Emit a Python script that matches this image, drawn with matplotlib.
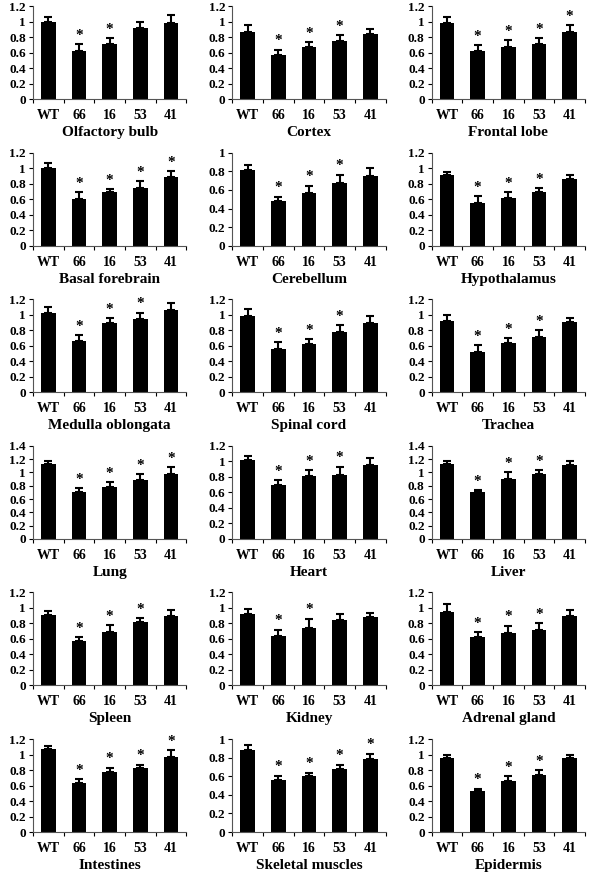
import numpy as np
import matplotlib
matplotlib.use('Agg')
import matplotlib.pyplot as plt

plt.rcParams['font.family'] = ['Liberation Serif', 'DejaVu Serif']
plt.rcParams['font.weight'] = 'bold'

# Data
groups = ['WT', '66', '16', '53', '41']

tissues = ['Olfactory bulb', 'Cortex', 'Frontal lobe',
           'Basal forebrain', 'Cerebellum', 'Hypothalamus',
           'Medulla oblongata', 'Spinal cord', 'Trachea',
           'Lung', 'Heart', 'Liver',
           'Spleen', 'Kidney', 'Adrenal gland',
           'Intestines', 'Skeletal muscles', 'Epidermis']

means = [
    [1.00, 0.62, 0.71, 0.92, 0.99],
    [0.87, 0.57, 0.67, 0.75, 0.84],
    [0.98, 0.62, 0.67, 0.71, 0.87],
    [1.01, 0.60, 0.69, 0.75, 0.89],
    [0.81, 0.48, 0.57, 0.67, 0.75],
    [0.91, 0.55, 0.62, 0.69, 0.86],
    [1.03, 0.66, 0.89, 0.94, 1.06],
    [0.99, 0.56, 0.63, 0.78, 0.90],
    [0.92, 0.52, 0.64, 0.72, 0.91],
    [1.13, 0.71, 0.78, 0.88, 0.97],
    [1.02, 0.69, 0.81, 0.83, 0.95],
    [1.13, 0.70, 0.90, 0.97, 1.11],
    [0.91, 0.57, 0.69, 0.82, 0.90],
    [0.92, 0.64, 0.74, 0.84, 0.88],
    [0.95, 0.63, 0.68, 0.72, 0.89],
    [1.07, 0.63, 0.78, 0.83, 0.97],
    [0.88, 0.56, 0.60, 0.68, 0.79],
    [0.96, 0.53, 0.66, 0.74, 0.96],
]

errors = [
    [0.06, 0.09, 0.08, 0.08, 0.10],
    [0.09, 0.07, 0.07, 0.08, 0.07],
    [0.08, 0.08, 0.09, 0.08, 0.09],
    [0.06, 0.09, 0.04, 0.08, 0.07],
    [0.06, 0.05, 0.07, 0.09, 0.09],
    [0.04, 0.09, 0.07, 0.05, 0.05],
    [0.07, 0.08, 0.07, 0.09, 0.09],
    [0.09, 0.09, 0.06, 0.09, 0.08],
    [0.08, 0.09, 0.06, 0.08, 0.05],
    [0.05, 0.05, 0.07, 0.10, 0.11],
    [0.05, 0.07, 0.08, 0.10, 0.09],
    [0.05, 0.04, 0.10, 0.07, 0.07],
    [0.05, 0.05, 0.09, 0.05, 0.07],
    [0.07, 0.08, 0.12, 0.08, 0.05],
    [0.10, 0.06, 0.09, 0.08, 0.09],
    [0.04, 0.05, 0.05, 0.04, 0.09],
    [0.06, 0.04, 0.04, 0.04, 0.05],
    [0.04, 0.03, 0.06, 0.06, 0.04],
]

# which groups carry a significance star
stars = [
    [0, 1, 1, 0, 0],
    [0, 1, 1, 1, 0],
    [0, 1, 1, 1, 1],
    [0, 1, 1, 1, 1],
    [0, 1, 1, 1, 0],
    [0, 1, 1, 1, 0],
    [0, 1, 1, 1, 0],
    [0, 1, 1, 1, 0],
    [0, 1, 1, 1, 0],
    [0, 1, 1, 1, 1],
    [0, 1, 1, 1, 0],
    [0, 1, 1, 1, 0],
    [0, 1, 1, 1, 0],
    [0, 1, 1, 0, 0],
    [0, 1, 1, 1, 0],
    [0, 1, 1, 1, 1],
    [0, 1, 1, 1, 1],
    [0, 1, 1, 1, 0],
]

ymax = [1.2, 1.2, 1.2, 1.2, 1.0, 1.2, 1.2, 1.2, 1.2,
        1.4, 1.2, 1.4, 1.2, 1.2, 1.2, 1.2, 1.0, 1.2]

fig, axes = plt.subplots(6, 3, figsize=(6, 8.88), dpi=100)
plt.subplots_adjust(left=0.055, right=0.975, top=0.993, bottom=0.063,
                    wspace=0.3, hspace=0.575)

x = np.arange(len(groups))
for i, ax in enumerate(axes.flat):
    m = np.array(means[i])
    e = np.array(errors[i])
    ax.bar(x, m, width=0.48, color='black', zorder=2)
    ax.errorbar(x, m, yerr=[np.zeros_like(e), e], fmt='none', ecolor='black',
                elinewidth=1.5, capsize=3, capthick=1.5, zorder=3)
    for j in range(len(groups)):
        if stars[i][j]:
            ax.text(x[j], m[j] + e[j] + 0.03, '*', ha='center', va='bottom',
                    fontsize=11, fontweight='bold')
    ticks = np.arange(0, ymax[i] + 0.01, 0.2)
    ax.set_xlim(-0.5, 4.5)
    ax.set_ylim(0, ymax[i])
    ax.set_yticks(ticks)
    ax.set_yticklabels(['0' if v == 0 else ('1' if abs(v - 1) < 1e-9 else f'{v:.1f}')
                        for v in ticks])
    ax.set_xticks(x)
    ax.set_xticklabels(groups)
    ax.set_xticks(np.arange(-0.5, 5, 1), minor=True)
    ax.tick_params(axis='x', which='major', length=0, labelsize=10, pad=7)
    ax.tick_params(axis='x', which='minor', length=3, direction='out', width=0.8)
    ax.tick_params(axis='y', length=3, direction='out', labelsize=9.5, pad=2, width=0.8)
    for lbl in ax.get_xticklabels() + ax.get_yticklabels():
        lbl.set_fontweight('bold')
    ax.spines['top'].set_visible(False)
    ax.spines['right'].set_visible(False)
    ax.spines['left'].set_color('#555555')
    ax.spines['bottom'].set_color('#555555')
    ax.set_xlabel(tissues[i], fontsize=11, fontweight='bold', labelpad=3)

plt.savefig('out.png', dpi=100)
